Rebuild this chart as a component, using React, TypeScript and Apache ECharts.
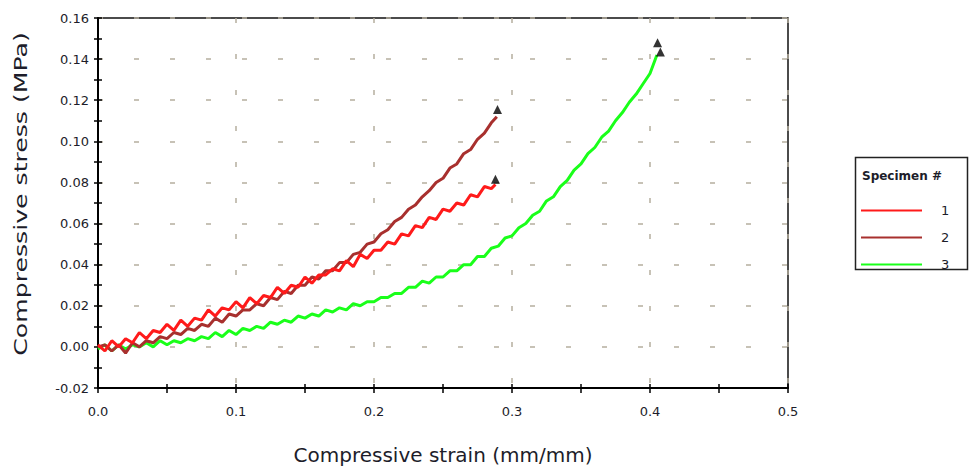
import React, { useEffect, useRef } from "react";
import * as echarts from "echarts";

const X_TICKS = [0, 0.1, 0.2, 0.3, 0.4, 0.5];
const Y_TICKS = [-0.02, 0, 0.02, 0.04, 0.06, 0.08, 0.1, 0.12, 0.14, 0.16];
const SERIES_NAMES = ["1", "2", "3"];
const SERIES_COLORS = ["#ff1a1a", "#a8302e", "#1aff1a"];

// Specimen 1 (strain, stress)
const specimen1: [number, number][] = [
  [0.0, 0.001], [0.005, -0.002], [0.01, 0.003], [0.015, 0.0], [0.02, 0.004], [0.025, 0.002],
  [0.03, 0.007], [0.035, 0.004], [0.04, 0.008], [0.045, 0.007], [0.05, 0.011], [0.055, 0.008],
  [0.06, 0.013], [0.065, 0.01], [0.07, 0.014], [0.075, 0.013], [0.08, 0.018], [0.085, 0.015],
  [0.09, 0.019], [0.095, 0.018], [0.1, 0.022], [0.105, 0.019], [0.11, 0.024], [0.115, 0.021],
  [0.12, 0.025], [0.125, 0.024], [0.13, 0.029], [0.135, 0.026], [0.14, 0.03], [0.145, 0.029],
  [0.15, 0.034], [0.155, 0.031], [0.16, 0.035], [0.165, 0.035], [0.17, 0.038], [0.175, 0.037],
  [0.18, 0.042], [0.185, 0.039], [0.19, 0.045], [0.195, 0.043], [0.2, 0.047], [0.205, 0.047],
  [0.21, 0.051], [0.215, 0.05], [0.22, 0.055], [0.225, 0.054], [0.23, 0.059], [0.235, 0.058],
  [0.24, 0.063], [0.245, 0.062], [0.25, 0.067], [0.255, 0.066], [0.26, 0.07], [0.265, 0.069],
  [0.27, 0.074], [0.275, 0.073], [0.28, 0.078], [0.285, 0.077], [0.288, 0.079],
];

// Specimen 2
const specimen2: [number, number][] = [
  [0.0, 0.0], [0.005, 0.001], [0.01, -0.002], [0.015, 0.001], [0.02, -0.003], [0.025, 0.002],
  [0.03, 0.0], [0.035, 0.003], [0.04, 0.002], [0.045, 0.005], [0.05, 0.004], [0.055, 0.007],
  [0.06, 0.006], [0.065, 0.009], [0.07, 0.008], [0.075, 0.011], [0.08, 0.01], [0.085, 0.014],
  [0.09, 0.012], [0.095, 0.016], [0.1, 0.015], [0.105, 0.018], [0.11, 0.018], [0.115, 0.021],
  [0.12, 0.02], [0.125, 0.024], [0.13, 0.023], [0.135, 0.027], [0.14, 0.026], [0.145, 0.03],
  [0.15, 0.03], [0.155, 0.034], [0.16, 0.033], [0.165, 0.037], [0.17, 0.037], [0.175, 0.041],
  [0.18, 0.041], [0.185, 0.045], [0.19, 0.046], [0.195, 0.05], [0.2, 0.051], [0.205, 0.055],
  [0.21, 0.057], [0.215, 0.061], [0.22, 0.063], [0.225, 0.067], [0.23, 0.069], [0.235, 0.073],
  [0.24, 0.076], [0.245, 0.08], [0.25, 0.082], [0.255, 0.087], [0.26, 0.089], [0.265, 0.094],
  [0.27, 0.096], [0.275, 0.101], [0.28, 0.104], [0.285, 0.109], [0.289, 0.112],
];

// Specimen 3
const specimen3: [number, number][] = [
  [0.0, -0.001], [0.005, 0.001], [0.01, -0.002], [0.015, 0.001], [0.02, -0.001], [0.025, 0.001],
  [0.03, 0.0], [0.035, 0.002], [0.04, 0.0], [0.045, 0.003], [0.05, 0.001], [0.055, 0.003],
  [0.06, 0.002], [0.065, 0.004], [0.07, 0.003], [0.075, 0.005], [0.08, 0.004], [0.085, 0.007],
  [0.09, 0.005], [0.095, 0.008], [0.1, 0.006], [0.105, 0.009], [0.11, 0.008], [0.115, 0.01],
  [0.12, 0.009], [0.125, 0.012], [0.13, 0.011], [0.135, 0.013], [0.14, 0.012], [0.145, 0.015],
  [0.15, 0.014], [0.155, 0.016], [0.16, 0.015], [0.165, 0.018], [0.17, 0.017], [0.175, 0.019],
  [0.18, 0.018], [0.185, 0.021], [0.19, 0.02], [0.195, 0.022], [0.2, 0.022], [0.205, 0.024],
  [0.21, 0.024], [0.215, 0.026], [0.22, 0.026], [0.225, 0.029], [0.23, 0.029], [0.235, 0.032],
  [0.24, 0.031], [0.245, 0.034], [0.25, 0.034], [0.255, 0.037], [0.26, 0.037], [0.265, 0.04],
  [0.27, 0.04], [0.275, 0.044], [0.28, 0.044], [0.285, 0.048], [0.29, 0.049], [0.295, 0.053],
  [0.3, 0.054], [0.305, 0.058], [0.31, 0.06], [0.315, 0.064], [0.32, 0.066], [0.325, 0.071],
  [0.33, 0.073], [0.335, 0.078], [0.34, 0.081], [0.345, 0.086], [0.35, 0.089], [0.355, 0.094],
  [0.36, 0.097], [0.365, 0.102], [0.37, 0.105], [0.375, 0.11], [0.38, 0.114], [0.385, 0.119],
  [0.39, 0.123], [0.395, 0.128], [0.4, 0.133], [0.405, 0.142],
];

// Failure markers (triangles)
const failurePoints: [number, number][] = [
  [0.288, 0.0815], [0.2895, 0.1155], [0.4055, 0.148], [0.4075, 0.1435],
];

const FONT = "'DejaVu Sans', Verdana, sans-serif";

export default function App() {
  const ref = useRef<HTMLDivElement>(null);
  useEffect(() => {
    if (!ref.current) return;
    const chart = echarts.init(ref.current, undefined, { renderer: "svg" });
    const gridLine = { show: true, lineStyle: { color: "#b5ae9e", width: 1.5, type: [5, 31] as any } };
    const baseX = {
      type: "value" as const,
      min: X_TICKS[0],
      max: X_TICKS[X_TICKS.length - 1],
      interval: 0.1,
    };
    const baseY = {
      type: "value" as const,
      min: Y_TICKS[0],
      max: Y_TICKS[Y_TICKS.length - 1],
      interval: 0.02,
    };
    const data = [specimen1, specimen2, specimen3];
    chart.setOption({
      animation: false,
      grid: {
        left: 98, right: 184, top: 18, bottom: 80,
        show: true, borderColor: "#111", borderWidth: 1.5, backgroundColor: "transparent",
      },
      xAxis: [
        {
          ...baseX,
          position: "bottom",
          axisLine: { show: true, onZero: false, lineStyle: { color: "#000", width: 2 } },
          axisTick: { show: true, length: 5, lineStyle: { color: "#000", width: 1.5 } },
          minorTick: { show: true, splitNumber: 2, length: 5, lineStyle: { color: "#000", width: 1.5 } },
          axisLabel: {
            color: "#1d1d2a", fontFamily: FONT, fontSize: 13, margin: 17,
            formatter: (v: number) => v.toFixed(1),
          },
          splitLine: gridLine,
        },
        {
          ...baseX,
          position: "bottom",
          axisLine: { show: false, onZero: false },
          axisTick: { show: true, inside: true, length: 4, lineStyle: { color: "#000", width: 1.5 } },
          minorTick: { show: true, splitNumber: 2, length: 4, lineStyle: { color: "#000", width: 1.5 } },
          axisLabel: { show: false },
          splitLine: { show: false },
        },
      ],
      yAxis: [
        {
          ...baseY,
          position: "left",
          axisLine: { show: true, onZero: false, lineStyle: { color: "#000", width: 2 } },
          axisTick: { show: true, length: 4, lineStyle: { color: "#000", width: 1.5 } },
          minorTick: { show: true, splitNumber: 2, length: 4, lineStyle: { color: "#000", width: 1.5 } },
          axisLabel: {
            color: "#1d1d2a", fontFamily: FONT, fontSize: 13, margin: 9,
            formatter: (v: number) => v.toFixed(2),
          },
          splitLine: gridLine,
        },
        {
          ...baseY,
          position: "left",
          axisLine: { show: false, onZero: false },
          axisTick: { show: true, inside: true, length: 4, lineStyle: { color: "#000", width: 1.5 } },
          minorTick: { show: true, splitNumber: 2, length: 4, lineStyle: { color: "#000", width: 1.5 } },
          axisLabel: { show: false },
          splitLine: { show: false },
        },
      ],
      legend: {
        orient: "vertical",
        left: 856,
        top: 199,
        data: SERIES_NAMES,
        icon: "rect",
        itemWidth: 61,
        itemHeight: 2,
        itemGap: 14,
        textStyle: { color: "#1d1d2a", fontFamily: FONT, fontSize: 13, padding: [0, 0, 0, 14] },
        selectedMode: false,
      },
      graphic: [
        {
          type: "rect",
          shape: { x: 855.5, y: 157.5, width: 112, height: 112 },
          style: { fill: "none", stroke: "#222", lineWidth: 1.5 },
        },
        {
          type: "text",
          x: 862,
          y: 176,
          style: {
            text: "Specimen #", font: `bold 12px ${FONT}`, fill: "#1d1d2a",
            textAlign: "left", textVerticalAlign: "middle",
          },
        },
        {
          type: "text",
          x: 21,
          y: 194,
          rotation: Math.PI / 2,
          scaleX: 1.48,
          style: {
            text: "Compressive stress (MPa)", font: `17px ${FONT}`, fill: "#1d1d2a",
            textAlign: "center", textVerticalAlign: "middle",
          },
        },
        {
          type: "text",
          x: 443,
          y: 455,
          style: {
            text: "Compressive strain (mm/mm)", font: `20px ${FONT}`, fill: "#1d1d2a",
            textAlign: "center", textVerticalAlign: "middle",
          },
        },
      ],
      series: [
        ...SERIES_NAMES.map((name, i) => ({
          name,
          type: "line" as const,
          data: data[i],
          symbol: "none",
          color: SERIES_COLORS[i],
          lineStyle: { width: 3, color: SERIES_COLORS[i] },
          z: 3 - i,
        })),
        {
          name: "failure",
          type: "scatter" as const,
          data: failurePoints,
          symbol: "triangle",
          symbolSize: 9,
          itemStyle: { color: "#000" },
          z: 10,
        },
      ],
    });
    return () => chart.dispose();
  }, []);
  return (
    <div
      ref={ref}
      style={{ position: "fixed", left: 0, top: 0, width: 972, height: 468, background: "#fff" }}
    />
  );
}
